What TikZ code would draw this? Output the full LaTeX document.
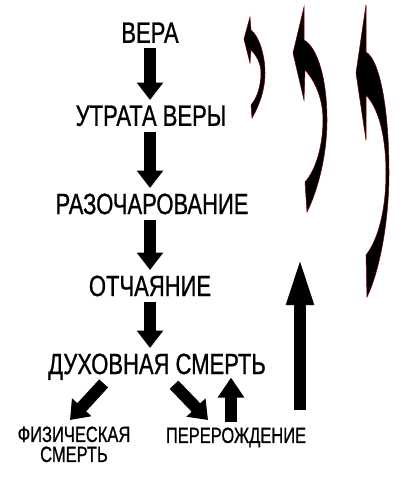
\documentclass[tikz,border=0pt]{standalone}
\usepackage{fontspec}
\setmainfont{Liberation Sans}[FakeStretch=0.75,FakeBold=0.8]
\usetikzlibrary{arrows.meta}
\tikzset{
  stage/.style={anchor=north,inner sep=1pt,font=\fontsize{22}{26}\selectfont},
  outcome/.style={anchor=north,inner sep=1pt,align=center,font=\fontsize{16.5}{15}\selectfont},
  blockarrow/.style={line width=9pt,-{Triangle[length=13pt,width=19pt]},shorten <=3pt,shorten >=3pt},
  bigarrow/.style={line width=9pt,-{Triangle[length=37.5pt,width=18pt]}},
  hook/.style={fill=black,draw=red!45!black,line width=0.4pt}
}
\begin{document}
\begin{tikzpicture}[x=0.75pt,y=-0.75pt]
     \useasboundingbox (0,0) rectangle (403,479);
     % the chain of stages
     \node[stage] (vera) at (150,21) {ВЕРА};
     \node[stage] (utrata) at (151,104) {УТРАТА ВЕРЫ};
     \node[stage] (razoch) at (152,192) {РАЗОЧАРОВАНИЕ};
     \node[stage] (otch) at (150,274) {ОТЧАЯНИЕ};
     \node[stage] (duxsm) at (157,352) {ДУХОВНАЯ СМЕРТЬ};
     \node[outcome] (fizsm) at (74,425) {ФИЗИЧЕСКАЯ\\СМЕРТЬ};
     \node[outcome] (pererozh) at (236,426) {ПЕРЕРОЖДЕНИЕ};
     \draw[blockarrow] (vera.south) -- (vera.south |- utrata.north);
     \draw[blockarrow] (vera.south |- utrata.south) -- (vera.south |- razoch.north);
     \draw[blockarrow] (vera.south |- razoch.south) -- (vera.south |- otch.north);
     \draw[blockarrow] (otch.south) -- (otch.south |- duxsm.north);
     % the two ways out
     \draw[blockarrow,shorten <=0pt,shorten >=0pt] ([xshift=-40pt,yshift=-7pt]duxsm.base) -- ([xshift=-3pt,yshift=3.75pt]fizsm.north);
     \draw[blockarrow,shorten <=0pt,shorten >=0pt] ([xshift=12.75pt,yshift=-8pt]duxsm.base) -- ([xshift=-21pt,yshift=4.5pt]pererozh.north);
     \coordinate (rebirth) at ([xshift=-3.75pt,yshift=3pt]pererozh.north);
     \draw[blockarrow,shorten <=0pt,shorten >=0pt,-{Triangle[length=15pt,width=19pt]}] (rebirth) -- ([yshift=-2.6pt]rebirth |- duxsm.base);
     % back up again
     \coordinate (cyclefoot) at (300,410);
     \coordinate (cycletop) at (300,255);
     \draw[bigarrow] (cyclefoot) -- (cycletop);
     \fill[hook] (250,17) -- (244,39) -- (250,63) -- (251,50)
        .. controls (257,56) and (261,64) .. (261,73) .. controls (261,86) and (257,98) .. (251,105)
        -- (252,118) .. controls (259,106) and (265,90) .. (265,73) .. controls (265,55) and (259,36) .. (251,30) -- cycle;
     \fill[hook] (304,7) -- (293,53) -- (304,100) -- (305,70)
        .. controls (316,82) and (323,100) .. (323,120) .. controls (323,145) and (316,170) .. (305,182)
        -- (307,212) .. controls (318,190) and (327,155) .. (327,120) .. controls (327,80) and (318,48) .. (304,40) -- cycle;
     \fill[hook] (366,5) -- (356,73) -- (366,140) -- (366,95)
        .. controls (380,110) and (386,140) .. (386,173) .. controls (386,210) and (378,240) .. (366,255)
        -- (367,297) .. controls (380,270) and (389,220) .. (389,173) .. controls (389,110) and (380,60) .. (366,52) -- cycle;
\end{tikzpicture}
\end{document}
